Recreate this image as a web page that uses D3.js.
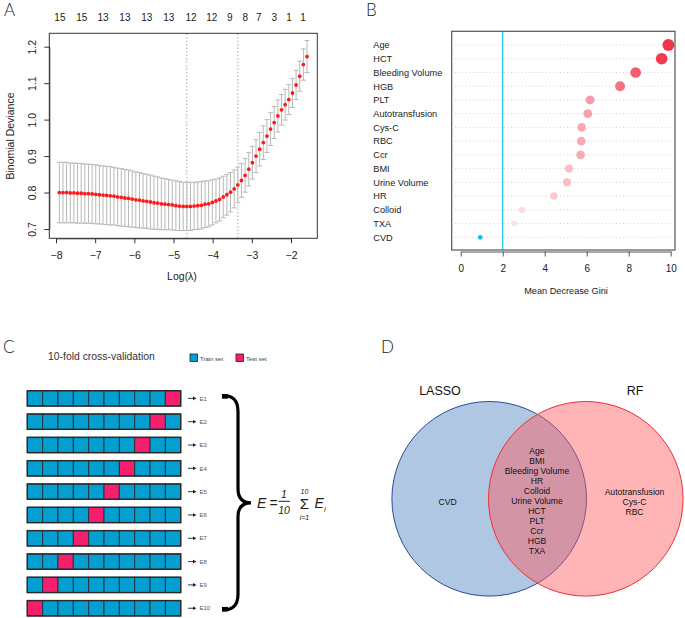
<!DOCTYPE html>
<html>
<head>
<meta charset="utf-8">
<script src="https://cdn.jsdelivr.net/npm/d3@7"></script>
<style>
  body { margin: 0; background: #fff; }
  svg { display: block; }
  text { font-family: "Liberation Sans", Arial, sans-serif; }
  .geo { font-family: Lato, "DejaVu Sans", sans-serif; }
</style>
</head>
<body>
<svg id="fig" width="685" height="618"></svg>
<script>
// ---- Panel A: LASSO cross-validation curve ----
const logLambda = [-7.915, -7.822, -7.729, -7.636, -7.543, -7.450, -7.357, -7.264, -7.171, -7.078,
  -6.985, -6.892, -6.799, -6.706, -6.613, -6.520, -6.427, -6.334, -6.241, -6.148,
  -6.055, -5.962, -5.869, -5.776, -5.683, -5.590, -5.497, -5.404, -5.311, -5.218,
  -5.125, -5.032, -4.939, -4.846, -4.753, -4.660, -4.567, -4.474, -4.381, -4.288,
  -4.195, -4.102, -4.009, -3.916, -3.823, -3.730, -3.637, -3.544, -3.451, -3.358,
  -3.265, -3.172, -3.079, -2.986, -2.893, -2.800, -2.707, -2.614, -2.521, -2.428,
  -2.335, -2.242, -2.149, -2.056, -1.963, -1.870, -1.777, -1.684, -1.591];
const cvMean = [0.800, 0.800, 0.800, 0.799, 0.799, 0.798, 0.798, 0.797, 0.797, 0.796,
  0.795, 0.794, 0.793, 0.792, 0.791, 0.790, 0.788, 0.787, 0.785, 0.784,
  0.782, 0.780, 0.779, 0.777, 0.776, 0.774, 0.772, 0.771, 0.769, 0.768,
  0.767, 0.766, 0.764, 0.763, 0.762, 0.762, 0.762, 0.763, 0.764, 0.765,
  0.768, 0.769, 0.773, 0.777, 0.781, 0.788, 0.794, 0.801, 0.810, 0.821,
  0.833, 0.847, 0.864, 0.882, 0.900, 0.919, 0.937, 0.955, 0.974, 0.992,
  1.010, 1.027, 1.041, 1.055, 1.073, 1.095, 1.119, 1.151, 1.173];
const cvSE = [0.083, 0.083, 0.083, 0.082, 0.082, 0.082, 0.082, 0.081, 0.081, 0.081,
  0.081, 0.080, 0.080, 0.080, 0.080, 0.079, 0.079, 0.079, 0.078, 0.078,
  0.077, 0.076, 0.076, 0.075, 0.074, 0.074, 0.073, 0.072, 0.071, 0.070,
  0.069, 0.068, 0.068, 0.067, 0.066, 0.066, 0.066, 0.065, 0.065, 0.065,
  0.064, 0.063, 0.062, 0.060, 0.059, 0.057, 0.056, 0.054, 0.052, 0.049,
  0.046, 0.046, 0.046, 0.045, 0.045, 0.046, 0.046, 0.045, 0.045, 0.044,
  0.044, 0.042, 0.042, 0.041, 0.040, 0.040, 0.041, 0.043, 0.044];
const lambdaMin = -4.660, lambda1se = -3.358;
const nzeroPos = [-7.90, -7.34, -6.80, -6.24, -5.68, -5.12, -4.55, -4.02, -3.56, -3.17, -2.82, -2.43, -2.05, -1.69];
const nzeroLabels = [15, 15, 13, 13, 13, 13, 12, 12, 9, 8, 7, 3, 1, 1];
const xTicksA = [-8, -7, -6, -5, -4, -3, -2];
const yTicksA = [0.7, 0.8, 0.9, 1.0, 1.1, 1.2];

// ---- Panel B: random forest importance ----
const features = ["Age", "HCT", "Bleeding Volume", "HGB", "PLT", "Autotransfusion", "Cys-C", "RBC",
  "Ccr", "BMI", "Urine Volume", "HR", "Colloid", "TXA", "CVD"];
const gini = [9.89, 9.57, 8.33, 7.59, 6.16, 6.05, 5.76, 5.74, 5.71, 5.16, 5.06, 4.44, 2.92, 2.54, 0.93];
const giniCutoff = 2;
const xTicksB = [0, 2, 4, 6, 8, 10];

// ---- Panel C: 10-fold cross-validation scheme ----
const foldNames = ["E1", "E2", "E3", "E4", "E5", "E6", "E7", "E8", "E9", "E10"];
const testBlock = [9, 8, 7, 6, 5, 4, 3, 2, 1, 0];
const blocks = [0, 1, 2, 3, 4, 5, 6, 7, 8, 9];

// ---- Panel D: Venn of selected variables ----
const lassoOnly = ["CVD"];
const shared = ["Age", "BMI", "Bleeding Volume", "HR", "Colloid", "Urine Volume", "HCT", "PLT", "Ccr", "HGB", "TXA"];
const rfOnly = ["Autotransfusion", "Cys-C", "RBC"];

const svg = d3.select("#fig");

// panel letters
svg.selectAll(".plabel")
  .data([["A", 4, 16], ["B", 366, 16], ["C", 3, 353], ["D", 381, 353]])
  .enter().append("text")
  .attr("class", "geo")
  .attr("x", d => d[1]).attr("y", d => d[2])
  .style("font-size", "17px").style("font-weight", 300).style("fill", "#222")
  .text(d => d[0]);

// ================= A =================
const xA = d3.scaleLinear().domain([-8, -2]).range([56, 291]);
const yA = d3.scaleLinear().domain([0.7, 1.2]).range([229, 46.7]);
const gA = svg.append("g");

gA.selectAll(".vline").data([lambdaMin, lambda1se]).enter().append("line")
  .attr("x1", d => xA(d)).attr("x2", d => xA(d))
  .attr("y1", 33.5).attr("y2", 238)
  .attr("stroke", "#aaa").attr("stroke-width", 1).attr("stroke-dasharray", "1.5,2");

const ptsA = logLambda.map((l, i) => ({ l, m: cvMean[i], s: cvSE[i] }));
const bars = gA.selectAll(".eb").data(ptsA).enter().append("g").attr("stroke", "#b8b8b8").attr("stroke-width", 1);
bars.append("line")
  .attr("x1", d => xA(d.l)).attr("x2", d => xA(d.l))
  .attr("y1", d => yA(d.m + d.s)).attr("y2", d => yA(d.m - d.s));
bars.append("line")
  .attr("x1", d => xA(d.l) - 2.5).attr("x2", d => xA(d.l) + 2.5)
  .attr("y1", d => yA(d.m + d.s)).attr("y2", d => yA(d.m + d.s));
bars.append("line")
  .attr("x1", d => xA(d.l) - 2.5).attr("x2", d => xA(d.l) + 2.5)
  .attr("y1", d => yA(d.m - d.s)).attr("y2", d => yA(d.m - d.s));

gA.selectAll(".pt").data(ptsA).enter().append("circle")
  .attr("cx", d => xA(d.l)).attr("cy", d => yA(d.m))
  .attr("r", 1.9).attr("fill", "#ff1a1a");

gA.append("rect").attr("x", 49.3).attr("y", 33.3).attr("width", 268).attr("height", 205)
  .attr("fill", "none").attr("stroke", "#333").attr("stroke-width", 1);

const axA = gA.append("g").attr("transform", "translate(0,238.3)")
  .call(d3.axisBottom(xA).tickValues(xTicksA).tickSize(5).tickSizeOuter(0)
    .tickFormat(d => "\u2212" + Math.abs(d)));
axA.selectAll("text").attr("dy", 0).attr("y", 21).style("font-size", "10.5px").style("fill", "#222");

const ayA = gA.append("g").attr("transform", "translate(49.3,0)")
  .call(d3.axisLeft(yA).tickValues(yTicksA).tickSize(5).tickSizeOuter(0).tickFormat(d3.format(".1f")));
ayA.selectAll("text").attr("x", 0).attr("dy", 0).attr("text-anchor", "middle")
  .attr("transform", "translate(-13,0) rotate(-90)")
  .style("font-size", "10.5px").style("fill", "#222");
svg.selectAll(".domain").attr("stroke", "#333");
svg.selectAll(".tick line").attr("stroke", "#333");

gA.selectAll(".nz").data(nzeroPos).enter().append("text")
  .attr("x", d => xA(d)).attr("y", 21)
  .attr("text-anchor", "middle").style("font-size", "10px").style("fill", "#222")
  .text((d, i) => nzeroLabels[i]);

gA.append("text").attr("x", 182).attr("y", 280).attr("text-anchor", "middle")
  .style("font-size", "10.5px").style("fill", "#222").text("Log(\u03bb)");
gA.append("text").attr("transform", "translate(14,136) rotate(-90)").attr("text-anchor", "middle")
  .style("font-size", "10.5px").style("fill", "#222").text("Binomial Deviance");

// ================= B =================
const xB = d3.scaleLinear().domain([0, 10]).range([460.7, 670.7]);
const yB = d3.scalePoint().domain(features).range([45, 237.3]);
const rB = d3.scaleLinear().domain([0, 10]).range([2, 6]);
const colB = d3.scaleLinear().domain([2.5, 5, 6, 8, 10]).range(["#fde1e4", "#fbc2c8", "#f8a1ab", "#f56678", "#ef3149"]);
const gB = svg.append("g");

gB.selectAll(".grid").data(features).enter().append("line")
  .attr("x1", 455).attr("x2", 672)
  .attr("y1", d => yB(d)).attr("y2", d => yB(d))
  .attr("stroke", "#c8c8c8").attr("stroke-width", 0.8).attr("stroke-dasharray", "1,2.5");

gB.append("line").attr("x1", xB(giniCutoff)).attr("x2", xB(giniCutoff))
  .attr("y1", 31.3).attr("y2", 250).attr("stroke", "#1ec8e8").attr("stroke-width", 1.3);

gB.selectAll(".dot").data(features).enter().append("circle")
  .attr("cx", (d, i) => xB(gini[i])).attr("cy", d => yB(d))
  .attr("r", (d, i) => rB(gini[i]))
  .attr("fill", (d, i) => gini[i] < giniCutoff ? "#06c3ef" : colB(gini[i]));

gB.append("rect").attr("x", 451.7).attr("y", 31.3).attr("width", 223.3).attr("height", 218.7)
  .attr("fill", "none").attr("stroke", "#555").attr("stroke-width", 1.2);

gB.selectAll(".flab").data(features).enter().append("text")
  .attr("x", 373.3).attr("y", d => yB(d) + 3.3)
  .style("font-size", "9.2px").style("fill", "#222").text(d => d);

const axB = gB.append("g").attr("transform", "translate(0,251.5)")
  .call(d3.axisBottom(xB).tickValues(xTicksB).tickSize(5).tickSizeOuter(0));
axB.selectAll("text").attr("dy", 0).attr("y", 20).style("font-size", "10px").style("fill", "#222");
axB.selectAll(".domain, .tick line").attr("stroke", "#555");
gB.append("text").attr("x", 566).attr("y", 294).attr("text-anchor", "middle")
  .style("font-size", "9.2px").style("fill", "#222").text("Mean Decrease Gini");

// ================= C =================
const gC = svg.append("g").attr("class", "geo");
const trainCol = "#049fd1", testCol = "#f51f6e";
gC.append("text").attr("x", 48).attr("y", 360).style("font-size", "10.4px").style("fill", "#333")
  .text("10-fold cross-validation");
[[190, "Train set", trainCol], [236, "Test set", testCol]].forEach(([x, t, c]) => {
  gC.append("rect").attr("x", x).attr("y", 354).attr("width", 7.5).attr("height", 7.5)
    .attr("fill", c).attr("stroke", "#222").attr("stroke-width", 0.8);
  gC.append("text").attr("x", x + 10).attr("y", 360.5).style("font-size", "6px").style("fill", "#444").text(t);
});

const xC = d3.scaleBand().domain(blocks).range([27.3, 180.7]);
const yC = d3.scaleBand().domain(foldNames).range([390.7, 615.9]).paddingInner(0.343).paddingOuter(0);
const rows = gC.selectAll(".fold").data(foldNames).enter().append("g")
  .attr("transform", d => `translate(0,${yC(d)})`);
rows.selectAll("rect.cell").data((d, i) => blocks.map(b => ({ b, test: b === testBlock[i] })))
  .enter().append("rect").attr("class", "cell")
  .attr("x", d => xC(d.b)).attr("y", 0)
  .attr("width", xC.bandwidth()).attr("height", yC.bandwidth())
  .attr("fill", d => d.test ? testCol : trainCol)
  .attr("stroke", "#27333a").attr("stroke-width", 1);
rows.append("rect").attr("x", 27.3).attr("y", 0).attr("width", 153.4).attr("height", yC.bandwidth())
  .attr("fill", "none").attr("stroke", "#2a2a2a").attr("stroke-width", 1.4);
rows.append("line").attr("x1", 188).attr("x2", 194)
  .attr("y1", yC.bandwidth() / 2).attr("y2", yC.bandwidth() / 2)
  .attr("stroke", "#222").attr("stroke-width", 0.9);
rows.append("path")
  .attr("d", `M193,${yC.bandwidth() / 2 - 1.8} L196.5,${yC.bandwidth() / 2} L193,${yC.bandwidth() / 2 + 1.8}Z`)
  .attr("fill", "#222");
rows.append("text").attr("x", 199.5).attr("y", yC.bandwidth() / 2 + 2.2)
  .style("font-size", "6px").style("fill", "#555").text(d => d);

// brace
const braceTop = yC(foldNames[0]) + 5;
const braceBot = yC(foldNames[9]) + yC.bandwidth() - 6;
const braceMid = (braceTop + braceBot) / 2;
gC.append("path")
  .attr("d", `M222,${braceTop} Q238,${braceTop - 1} 238,${braceTop + 16} L238,${braceMid - 14} Q238,${braceMid} 251,${braceMid}
              Q238,${braceMid} 238,${braceMid + 14} L238,${braceBot - 16} Q238,${braceBot + 1} 222,${braceBot}`)
  .attr("fill", "none").attr("stroke", "#000").attr("stroke-width", 3.2);
gC.append("path").attr("d", `M222,${braceTop - 1.5} L228,${braceTop - 1.5} L228,${braceTop + 3} L222,${braceTop + 3}Z`).attr("fill", "#000");
gC.append("path").attr("d", `M222,${braceBot - 3} L228,${braceBot - 3} L228,${braceBot + 1.5} L222,${braceBot + 1.5}Z`).attr("fill", "#000");

// formula
const fm = braceMid;
const fx = gC.append("g").style("font-style", "italic").style("fill", "#222");
fx.append("text").attr("x", 257).attr("y", fm + 5.5).style("font-size", "14px").text("E");
fx.append("text").attr("x", 269.5).attr("y", fm + 5.5).style("font-size", "14px").style("font-style", "normal").text("=");
fx.append("text").attr("x", 284).attr("y", fm - 5).attr("text-anchor", "middle").style("font-size", "10.5px").text("1");
fx.append("line").attr("x1", 278.5).attr("x2", 290).attr("y1", fm - 1.5).attr("y2", fm - 1.5)
  .attr("stroke", "#222").attr("stroke-width", 1);
fx.append("text").attr("x", 284).attr("y", fm + 11).attr("text-anchor", "middle").style("font-size", "10.5px").text("10");
fx.append("text").attr("x", 304.5).attr("y", fm - 8.5).attr("text-anchor", "middle").style("font-size", "7px").text("10");
fx.append("text").attr("x", 304.5).attr("y", fm + 6).attr("text-anchor", "middle").style("font-size", "15px").style("font-style", "normal").text("\u03a3");
fx.append("text").attr("x", 304.5).attr("y", fm + 17.5).attr("text-anchor", "middle").style("font-size", "7px").text("i=1");
fx.append("text").attr("x", 314.5).attr("y", fm + 5.5).style("font-size", "14px").text("E");
fx.append("text").attr("x", 324).attr("y", fm + 9.5).style("font-size", "7.5px").text("i");

// ================= D =================
const gD = svg.append("g");
const venn = [
  { name: "LASSO", cx: 489.2, fill: "#b0c7e3", stroke: "#2b4b9e", lx: 440 },
  { name: "RF", cx: 585.8, fill: "rgba(255,88,92,0.45)", stroke: "#ec2f38", lx: 635 }
];
gD.selectAll("circle").data(venn).enter().append("circle")
  .attr("cx", d => d.cx).attr("cy", 498.8).attr("r", 97.3)
  .attr("fill", d => d.fill).attr("stroke", d => d.stroke).attr("stroke-width", 1);
gD.selectAll(".setname").data(venn).enter().append("text")
  .attr("x", d => d.lx).attr("y", 394.5).attr("text-anchor", "middle")
  .style("font-size", "12.5px").style("fill", "#111").text(d => d.name);

const listY = d3.scaleLinear().domain([0, 10]).range([454, 554]);
gD.selectAll(".shared").data(shared).enter().append("text")
  .attr("x", 537).attr("y", (d, i) => listY(i)).attr("text-anchor", "middle")
  .style("font-size", "8.6px").style("fill", "#111").text(d => d);
gD.selectAll(".lonly").data(lassoOnly).enter().append("text")
  .attr("x", 447.7).attr("y", (d, i) => listY(i) + 51).attr("text-anchor", "middle")
  .style("font-size", "8.6px").style("fill", "#111").text(d => d);
gD.selectAll(".ronly").data(rfOnly).enter().append("text")
  .attr("x", 634.5).attr("y", (d, i) => listY(i) + 40.5).attr("text-anchor", "middle")
  .style("font-size", "8.6px").style("fill", "#111").text(d => d);
</script>
</body>
</html>
